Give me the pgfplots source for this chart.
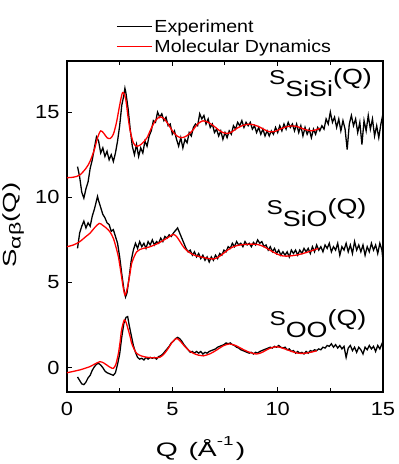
\documentclass[border=0pt]{standalone}
\usepackage{pgfplots}
\pgfplotsset{compat=1.18}
\usepackage{fontspec}
\setmainfont{Liberation Sans}
\usepackage{graphicx}

\newcommand{\clabel}[1]{\scalebox{1.22}[1]{\fontsize{20}{22}\selectfont S\raisebox{-12pt}{\fontsize{22}{24}\selectfont #1}\fontsize{22}{24}\selectfont (Q)}}

\begin{document}
\begin{tikzpicture}
\useasboundingbox (-67pt,-72pt) rectangle (332pt,392pt);
\begin{axis}[
  at={(0pt,0pt)}, anchor=south west,
  scale only axis, width=316pt, height=331pt,
  xmin=0, xmax=15, ymin=-1.43, ymax=18,
  xtick={0,5,10,15}, ytick={0,5,10,15},
  minor x tick num=1,
  tick align=inside, ytick pos=left,
  major tick length=5pt, minor tick length=4pt,
  tick style={line width=1pt, black},
  axis line style={line width=1.1pt},
  /pgf/number format/assume math mode=true,
  ticklabel style={font=\fontsize{19}{19}\selectfont},
  xticklabel={\scalebox{1.15}[1]{\pgfmathprintnumber{\tick}}},
  yticklabel={\scalebox{1.15}[1]{\pgfmathprintnumber{\tick}}},
  xticklabel style={yshift=-7pt},
  yticklabel style={xshift=-4pt},
  xlabel={\scalebox{1.45}[1]{Q\hspace{2pt} (Å\raisebox{0.55em}{\fontsize{13}{13}\selectfont -1}\hspace{1.5pt})}},
  xlabel style={at={(axis description cs:0.4225,-0.1945)}, anchor=base, font=\fontsize{19.5}{19.5}\selectfont},
  ylabel={\scalebox{1.45}[1]{S\raisebox{-4pt}{\fontsize{16}{16}\selectfont αβ}(Q)}},
  ylabel style={at={(axis description cs:-0.1592,0.5045)}, anchor=base, font=\fontsize{19}{19}\selectfont},
  legend style={at={(axis description cs:0.155,1.015)}, anchor=south west, draw=none, fill=none,
    font=\fontsize{17.5}{18}\selectfont, row sep=2pt, inner sep=0pt},
  legend cell align=left,
  legend image code/.code={\draw[#1] (0pt,0pt) -- (35pt,0pt);},
]
% ---------- S_SiSi ----------
\addplot[black, line width=1.3pt] table {
x y
0.5 11.8
0.6 11.2
0.7 10.3
0.8 9.95
0.9 10.5
1.0 10.9
1.1 11.7
1.2 12.2
1.3 12.9
1.4 13.55
1.5 13.3
1.6 12.6
1.7 12.9
1.8 12.4
1.9 12.7
2.0 12.2
2.1 12.5
2.2 12.1
2.3 12.6
2.4 13.3
2.5 14.2
2.6 15.4
2.7 16.0
2.75 16.4
2.8 16.1
2.9 15.2
3.0 14.0
3.1 13.0
3.2 12.5
3.3 13.1
3.4 12.4
3.5 12.9
3.6 12.6
3.7 13.3
3.8 13.0
3.9 13.6
4.0 13.9
4.1 14.5
4.2 14.4
4.3 15.0
4.4 14.7
4.5 14.9
4.6 14.5
4.7 14.7
4.8 14.2
4.9 14.3
5.0 13.7
5.1 13.9
5.2 13.4
5.3 13.0
5.4 13.5
5.5 12.9
5.6 13.4
5.7 13.2
5.8 13.8
5.9 13.6
6.0 14.1
6.1 14.3
6.2 14.2
6.3 14.9
6.4 14.6
6.5 14.8
6.6 14.3
6.7 14.6
6.8 14.1
6.9 14.3
7.0 13.8
7.1 14.0
7.2 13.6
7.3 13.9
7.4 13.4
7.5 13.8
7.6 13.5
7.7 13.9
7.8 13.7
7.9 14.2
8.0 14.0
8.1 14.4
8.2 14.2
8.3 14.5
8.4 14.1
8.5 14.4
8.6 14.2
8.7 14.4
8.8 14.0
8.9 14.2
9.0 13.8
9.1 14.1
9.2 13.7
9.3 14.0
9.4 13.6
9.5 13.9
9.6 13.6
9.7 13.9
9.8 13.7
9.9 14.1
10.0 13.8
10.1 14.2
10.2 13.9
10.3 14.3
10.4 14.0
10.5 14.4
10.6 14.1
10.7 14.3
10.8 13.9
10.9 14.3
11.0 13.8
11.1 14.2
11.2 13.6
11.3 14.1
11.4 13.7
11.5 14.0
11.6 13.5
11.7 14.0
11.8 13.7
11.9 14.1
12.0 13.9
12.1 14.2
12.2 14.0
12.3 14.6
12.4 14.3
12.5 15.0
12.6 14.4
12.7 14.7
12.8 14.1
12.9 14.6
13.0 13.9
13.1 14.5
13.2 14.0
13.3 12.8
13.4 14.3
13.5 14.8
13.6 14.2
13.7 14.6
13.8 13.8
13.9 14.4
14.0 13.1
14.1 14.5
14.2 13.9
14.3 14.8
14.4 14.0
14.5 14.6
14.6 13.6
14.7 14.2
14.8 13.5
14.9 14.3
15.0 14.9
};
\addlegendentry{\scalebox{1.12}[1]{Experiment}}
\addplot[red, line width=1.3pt, smooth] table {
x y
0 11.15
0.3 11.18
0.6 11.3
0.9 11.7
1.09 12.1
1.3 12.8
1.45 13.5
1.6 13.9
1.75 13.75
1.9 13.5
2.05 13.45
2.2 13.7
2.35 14.4
2.5 15.4
2.64 16.15
2.78 15.8
2.9 14.7
3.0 13.9
3.15 13.2
3.3 13.0
3.45 13.05
3.6 13.2
3.8 13.5
4.0 14.05
4.2 14.5
4.4 14.72
4.6 14.62
4.8 14.3
5.0 13.9
5.2 13.62
5.4 13.5
5.6 13.55
5.8 13.72
6.0 13.98
6.2 14.3
6.45 14.49
6.7 14.4
6.95 14.2
7.2 13.95
7.4 13.8
7.6 13.75
7.8 13.82
8.05 14.04
8.35 14.22
8.65 14.29
8.9 14.24
9.15 14.12
9.4 13.95
9.65 13.84
9.9 13.88
10.15 14.02
10.45 14.15
10.75 14.19
11.0 14.12
11.3 13.98
11.6 13.9
11.8 13.95
12.0 14.05
};
\addlegendentry{\scalebox{1.12}[1]{Molecular Dynamics}}
% ---------- S_SiO ----------
\addplot[black, line width=1.3pt, forget plot] table {
x y
0.5 7.0
0.6 7.9
0.7 8.3
0.8 8.6
0.9 8.2
1.0 8.5
1.1 8.3
1.2 8.9
1.3 9.3
1.4 9.8
1.45 10.05
1.5 9.8
1.6 9.4
1.7 9.0
1.8 8.8
1.9 8.5
2.0 8.4
2.1 8.0
2.2 8.1
2.3 7.7
2.4 7.3
2.5 6.5
2.6 5.5
2.7 4.6
2.78 4.15
2.85 4.4
2.95 5.3
3.05 6.3
3.15 6.9
3.25 7.3
3.35 7.0
3.45 7.4
3.55 7.1
3.65 7.3
3.75 7.0
3.85 7.4
3.95 7.2
4.05 7.5
4.15 7.2
4.25 7.4
4.35 7.3
4.45 7.6
4.55 7.4
4.65 7.7
4.75 7.6
4.85 7.8
4.95 7.7
5.05 7.9
5.15 8.05
5.25 8.2
5.35 7.9
5.45 7.6
5.55 7.3
5.65 7.0
5.75 6.8
5.85 6.9
5.95 6.6
6.05 6.8
6.15 6.5
6.25 6.7
6.35 6.4
6.45 6.6
6.55 6.3
6.65 6.5
6.75 6.2
6.85 6.5
6.95 6.3
7.05 6.6
7.15 6.4
7.25 6.7
7.35 6.6
7.45 6.9
7.55 6.8
7.65 7.1
7.75 7.0
7.85 7.3
7.95 7.1
8.05 7.4
8.15 7.2
8.25 7.3
8.35 7.1
8.45 7.4
8.55 7.2
8.65 7.3
8.75 7.1
8.85 7.35
8.95 7.2
9.05 7.5
9.15 7.3
9.25 7.4
9.35 7.1
9.45 7.2
9.55 6.9
9.65 7.1
9.75 6.8
9.85 7.0
9.95 6.7
10.05 6.9
10.15 6.6
10.25 6.8
10.35 6.6
10.45 6.8
10.55 6.5
10.65 6.9
10.75 6.7
10.85 6.9
10.95 6.6
11.05 6.9
11.15 6.7
11.25 7.0
11.35 6.8
11.45 7.0
11.55 6.7
11.65 7.1
11.75 6.8
11.85 7.2
11.95 6.9
12.05 7.1
12.15 6.8
12.25 7.2
12.35 7.0
12.45 7.3
12.55 6.8
12.65 7.1
12.75 6.9
12.85 7.3
12.95 6.6
13.05 7.1
13.15 6.9
13.25 7.3
13.35 6.8
13.45 7.2
13.55 6.7
13.65 7.4
13.75 6.9
13.85 7.2
13.95 6.8
14.05 7.2
14.15 6.6
14.25 7.1
14.35 6.8
14.45 7.3
14.55 6.9
14.65 7.2
14.75 6.7
14.85 7.3
14.95 6.9
15.0 6.3
};
\addplot[red, line width=1.3pt, smooth, forget plot] table {
x y
0 7.1
0.3 7.2
0.6 7.39
0.9 7.7
1.1 7.9
1.3 8.2
1.53 8.47
1.7 8.35
1.88 8.18
2.05 7.95
2.2 7.59
2.32 7.1
2.44 6.5
2.52 5.9
2.59 5.34
2.67 4.7
2.75 4.26
2.83 4.5
2.91 4.95
3.0 5.6
3.07 6.12
3.2 6.55
3.31 6.8
3.45 6.93
3.62 7.0
3.9 7.08
4.26 7.26
4.5 7.42
4.73 7.59
4.9 7.72
5.05 7.82
5.2 7.7
5.37 7.39
5.55 7.05
5.76 6.8
6.05 6.6
6.32 6.51
6.65 6.42
6.96 6.38
7.2 6.5
7.43 6.71
7.65 6.92
7.9 7.1
8.2 7.2
8.53 7.24
8.8 7.25
9.08 7.22
9.35 7.1
9.63 6.9
9.95 6.68
10.27 6.55
10.6 6.56
10.9 6.61
11.2 6.7
11.46 6.8
11.7 6.9
11.93 7.0
};
% ---------- S_OO ----------
\addplot[black, line width=1.3pt, forget plot] table {
x y
0.5 -0.55
0.6 -0.75
0.7 -0.95
0.8 -1.0
0.9 -0.85
1.0 -0.6
1.1 -0.45
1.2 -0.15
1.3 0.05
1.4 0.2
1.5 0.25
1.6 0.15
1.7 0.0
1.8 -0.2
1.9 -0.3
2.0 -0.35
2.1 -0.4
2.2 -0.45
2.3 -0.3
2.4 0.2
2.5 0.8
2.6 1.8
2.7 2.6
2.8 2.95
2.88 3.0
2.95 2.5
3.05 1.9
3.15 1.3
3.25 0.9
3.35 0.6
3.45 0.5
3.55 0.55
3.65 0.45
3.75 0.6
3.85 0.5
3.95 0.6
4.05 0.55
4.15 0.6
4.25 0.5
4.35 0.65
4.45 0.7
4.55 0.8
4.65 0.95
4.75 1.1
4.85 1.25
4.95 1.45
5.05 1.55
5.15 1.7
5.25 1.78
5.35 1.7
5.45 1.55
5.55 1.35
5.65 1.2
5.75 1.05
5.85 0.9
5.95 0.95
6.05 0.85
6.15 0.95
6.25 0.85
6.35 0.95
6.45 0.8
6.55 0.9
6.65 0.85
6.75 0.95
6.85 1.0
6.95 1.05
7.05 1.1
7.15 1.2
7.25 1.25
7.35 1.3
7.45 1.35
7.55 1.45
7.65 1.4
7.75 1.45
7.85 1.35
7.95 1.3
8.05 1.2
8.15 1.15
8.25 1.05
8.35 1.0
8.45 0.95
8.55 0.9
8.65 0.85
8.75 0.9
8.85 0.8
8.95 0.9
9.05 0.85
9.15 0.95
9.25 1.0
9.35 1.05
9.45 1.1
9.55 1.15
9.65 1.2
9.75 1.15
9.85 1.25
9.95 1.2
10.05 1.3
10.15 1.2
10.25 1.15
10.35 1.2
10.45 1.05
10.55 1.1
10.65 0.95
10.75 1.0
10.85 0.85
10.95 0.95
11.05 0.85
11.15 0.9
11.25 0.8
11.35 0.95
11.45 0.85
11.55 1.0
11.65 0.95
11.75 1.05
11.85 1.0
11.95 1.1
12.05 1.05
12.15 1.2
12.25 1.15
12.35 1.3
12.45 1.25
12.55 1.4
12.65 1.2
12.75 1.35
12.85 1.15
12.95 1.3
13.05 1.1
13.15 1.25
13.25 0.6
13.35 1.15
13.45 1.3
13.55 1.0
13.65 1.2
13.75 0.9
13.85 1.2
13.95 1.05
14.05 0.8
14.15 1.2
14.25 1.05
14.35 1.3
14.45 1.1
14.55 1.25
14.65 0.95
14.75 1.3
14.85 1.1
14.95 1.4
15.0 1.2
};
\addplot[red, line width=1.3pt, smooth, forget plot] table {
x y
0 -0.3
0.3 -0.22
0.62 -0.13
0.9 -0.02
1.09 0.06
1.3 0.2
1.56 0.35
1.75 0.27
1.88 0.16
2.05 0.02
2.2 -0.04
2.32 0.2
2.44 0.84
2.52 1.5
2.59 2.21
2.72 2.8
2.82 2.6
2.91 2.21
3.0 1.8
3.07 1.43
3.2 1.05
3.31 0.84
3.5 0.7
3.78 0.61
4.1 0.58
4.41 0.61
4.62 0.82
4.81 1.14
5.0 1.5
5.21 1.72
5.4 1.52
5.6 1.23
5.8 1.0
6.0 0.84
6.25 0.73
6.47 0.69
6.8 0.82
7.1 1.03
7.4 1.27
7.7 1.39
8.0 1.3
8.25 1.14
8.6 0.93
9.0 0.80
9.3 0.92
9.6 1.12
9.95 1.23
10.3 1.12
10.6 0.98
11.0 0.84
11.4 0.86
11.86 0.99
};
\node[anchor=base east, inner sep=0pt] at (axis cs:14.48,16.62) {\clabel{SiSi}};
\node[anchor=base east, inner sep=0pt] at (axis cs:14.22,9.0) {\clabel{SiO}};
\node[anchor=base east, inner sep=0pt] at (axis cs:14.22,2.49) {\clabel{OO}};
\end{axis}
\end{tikzpicture}
\end{document}
